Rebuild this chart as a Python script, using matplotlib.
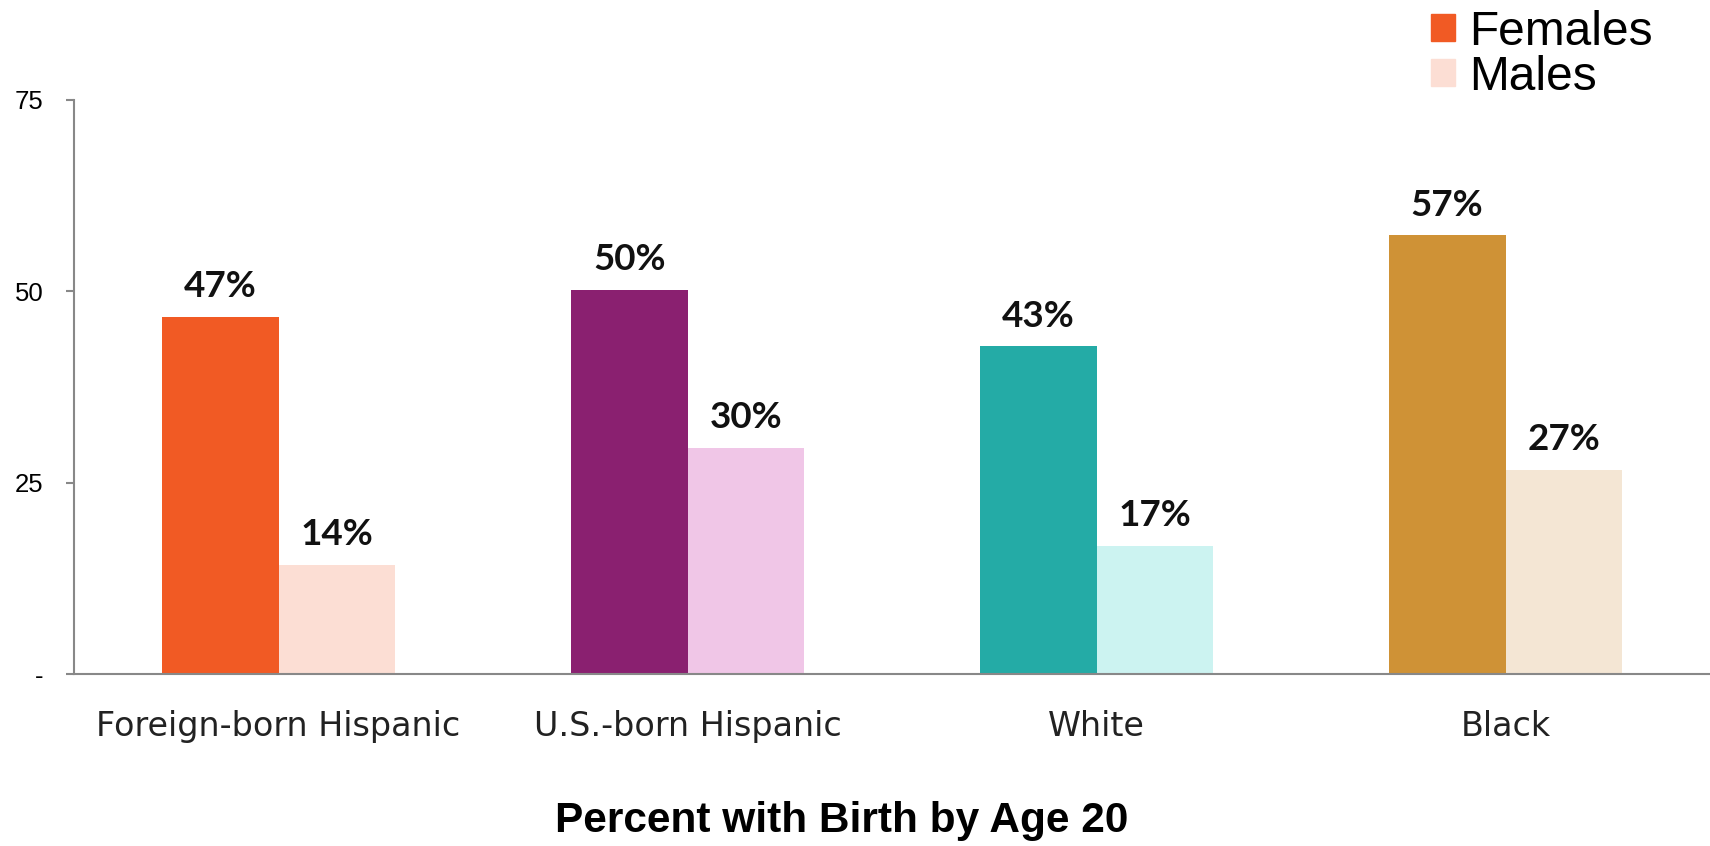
import numpy as np
import matplotlib
matplotlib.use("Agg")
import matplotlib.pyplot as plt
from matplotlib.patches import Patch

# data
categories = ["Foreign-born Hispanic", "U.S.-born Hispanic", "White", "Black"]
females = [46.6, 50.2, 42.8, 57.3]
males = [14.3, 29.5, 16.7, 26.7]
female_labels = ["47%", "50%", "43%", "57%"]
male_labels = ["14%", "30%", "17%", "27%"]
yticks = [0, 25, 50, 75]
ytick_labels = ["-", "25", "50", "75"]

female_colors = ["#F15A24", "#8A2070", "#24ABA6", "#CF9236"]
male_colors = ["#FCDED4", "#F0C6E7", "#CCF3F1", "#F4E6D4"]


def main():
    fig = plt.figure(figsize=(17.1, 8.46), dpi=100)
    ax = fig.add_axes([0.0433, 0.2033, 0.9567, 0.6785])

    x = np.arange(len(categories)) + 0.5
    w = 0.2853
    fbars = ax.bar(x - w / 2, females, width=w, color=female_colors)
    mbars = ax.bar(x + w / 2, males, width=w, color=male_colors)

    for bars, labels in ((fbars, female_labels), (mbars, male_labels)):
        for b, lab in zip(bars, labels):
            ax.annotate(lab, (b.get_x() + b.get_width() / 2, b.get_height()),
                        xytext=(0, 10), textcoords="offset points",
                        ha="center", va="bottom", fontsize=26.5,
                        fontweight="bold", family="Lato", color="#111111")

    ax.set_xlim(0, len(categories))
    ax.set_ylim(0, 75)
    ax.set_yticks(yticks, ytick_labels)
    ax.set_xticks(x, categories)
    ax.tick_params(axis="x", length=0, pad=26, labelsize=24,
                   labelcolor="#222222")
    ax.tick_params(axis="y", length=6, width=1.5, color="#888888", pad=16,
                   labelsize=18.5)
    for t in ax.get_yticklabels():
        t.set_family("Liberation Sans")
    for t in ax.get_xticklabels():
        t.set_family("DejaVu Sans")

    for side in ("top", "right"):
        ax.spines[side].set_visible(False)
    for side in ("left", "bottom"):
        ax.spines[side].set_color("#888888")
        ax.spines[side].set_linewidth(1.5)

    fig.text(0.4924, 0.03, "Percent with Birth by Age 20", ha="center",
             va="center", family="Liberation Sans", fontweight="bold",
             fontsize=30.5)

    handles = [Patch(color=female_colors[0]), Patch(color=male_colors[0])]
    fig.legend(handles, ["Females", "Males"], loc="upper left",
               bbox_to_anchor=(0.817, 1.028), frameon=False,
               prop={"family": "Liberation Sans", "size": 34.5},
               handlelength=0.5, handleheight=0.5, handletextpad=0.3,
               labelspacing=0.0, borderpad=0.2)

    fig.savefig("out.png", dpi=100)


if __name__ == "__main__":
    main()
